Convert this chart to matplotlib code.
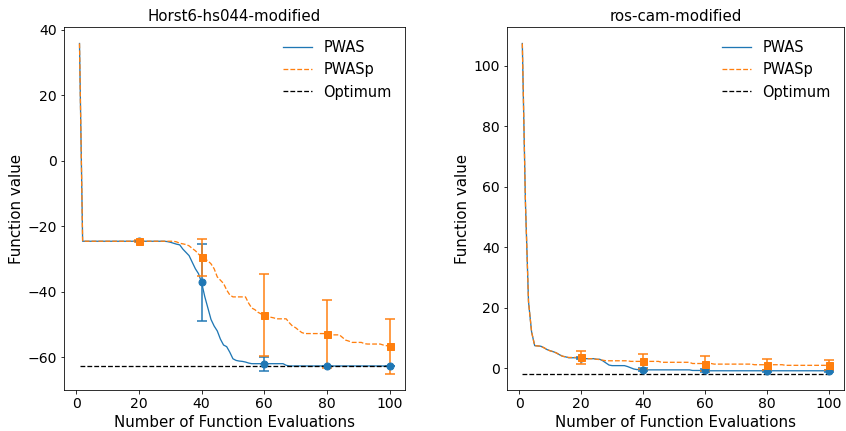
import matplotlib
matplotlib.use("Agg")
import matplotlib.pyplot as plt
import numpy as np

evals = list(range(1, 101))
checkpoints = [20, 40, 60, 80, 100]

# Left problem: Horst6-hs044-modified
left_title = "Horst6-hs044-modified"
left_pwas = ([35.8] + [-24.6] * 27 +
             [-24.7, -24.9, -25.2, -25.5, -25.7, -27.0, -28.0, -29.0, -31.0, -33.0,
              -34.5, -37.2, -41.5, -45.0, -48.5, -50.5, -52.0, -54.5, -56.3, -56.8,
              -58.5, -60.5, -61.0, -61.2, -61.3, -61.5, -61.8] +
             [-62.0] * 11 + [-62.5] + [-62.7] * 33)
left_pwasp = ([35.8] + [-24.6] * 30 +
              [-24.8, -25.2, -25.4, -25.6, -26.0, -26.8, -27.5, -28.5, -29.5, -30.0,
               -30.6, -31.5, -33.0, -35.5, -36.5, -37.5, -39.5, -41.0] +
              [-41.6] * 5 +
              [-43.5, -45.0, -45.5, -46.3, -46.8, -47.2, -47.6, -47.8, -48.0] +
              [-48.3] * 4 +
              [-49.5, -50.5, -51.0, -51.8, -52.5] + [-52.8] * 7 + [-53.0] +
              [-53.2] * 4 + [-54.0, -54.8, -55.1] + [-55.5] * 4 + [-55.9] +
              [-56.0] * 5 + [-56.3, -56.5, -56.6])
left_pwas_std = [0.0, 11.7, 2.1, 0.0, 0.0]
left_pwasp_std = [0.3, 5.7, 12.6, 10.4, 8.4]
left_opt = -62.7

# Right problem: ros-cam-modified
right_title = "ros-cam-modified"
right_pwas = ([107.3, 55.0, 22.0, 12.0, 7.5, 7.4, 7.3, 6.8, 6.2, 5.8, 5.5, 5.1, 4.5, 4.0, 3.8] +
              [3.5] * 5 + [3.2] * 4 + [3.0] * 2 + [2.5, 1.8, 1.1] + [0.9] * 5 +
              [0.6, 0.2, -0.2] + [-0.4] * 3 + [-0.5] * 15 + [-0.7] * 5 + [-0.8] * 40)
right_pwasp = ([107.3, 55.0, 22.0, 12.0, 7.5, 7.4, 7.3, 6.8, 6.2, 5.8, 5.5, 5.1, 4.5, 4.0, 3.8] +
               [3.6] * 5 + [3.2] * 4 + [3.0, 2.9] + [2.7] + [2.5] * 8 + [2.3] * 10 +
               [2.0] * 10 + [1.6] * 7 + [1.4] * 13 + [1.2] * 10 + [1.0] * 15)
right_pwas_std = [0.4, 0.6, 0.4, 0.3, 0.3]
right_pwasp_std = [2.0, 2.4, 2.4, 1.9, 1.6]
right_opt = -1.7

series_labels = ["PWAS", "PWASp", "Optimum"]

DPI = 72
W, H = 846, 431
fig = plt.figure(figsize=(W / DPI, H / DPI), dpi=DPI)
ax1 = fig.add_axes([64 / W, 1 - 390 / H, (405 - 64) / W, (390 - 27) / H])
ax2 = fig.add_axes([507 / W, 1 - 390 / H, (844 - 507) / W, (390 - 27) / H])

def draw(ax, title, pwas, pwasp, s1, s2, opt):
    x = np.array(evals)
    pwas = np.array(pwas)
    pwasp = np.array(pwasp)
    ax.plot(x, pwas, color="C0", lw=1.3, label=series_labels[0])
    ax.plot(x, pwasp, color="C1", lw=1.3, ls="--", label=series_labels[1])
    idx = np.array(checkpoints) - 1
    ax.errorbar(x[idx], pwas[idx], yerr=s1, fmt="o", color="C0", capsize=5,
                markersize=7, elinewidth=1.5, capthick=1.5)
    ax.errorbar(x[idx], pwasp[idx], yerr=s2, fmt="s", color="C1", capsize=5,
                markersize=7, elinewidth=1.5, capthick=1.5)
    ax.plot([x[0], x[-1]], [opt, opt], color="black", ls="--", lw=1.3,
            label=series_labels[2])
    ax.set_title(title, fontsize=15)
    ax.set_xlabel("Number of Function Evaluations", fontsize=15)
    ax.set_ylabel("Function value", fontsize=15)
    ax.set_xticks([0, 20, 40, 60, 80, 100])
    ax.tick_params(labelsize=14)
    ax.legend(loc="upper right", frameon=False, fontsize=14.5)

draw(ax1, left_title, left_pwas, left_pwasp, left_pwas_std, left_pwasp_std, left_opt)
draw(ax2, right_title, right_pwas, right_pwasp, right_pwas_std, right_pwasp_std, right_opt)

fig.savefig("out.png", dpi=DPI)
